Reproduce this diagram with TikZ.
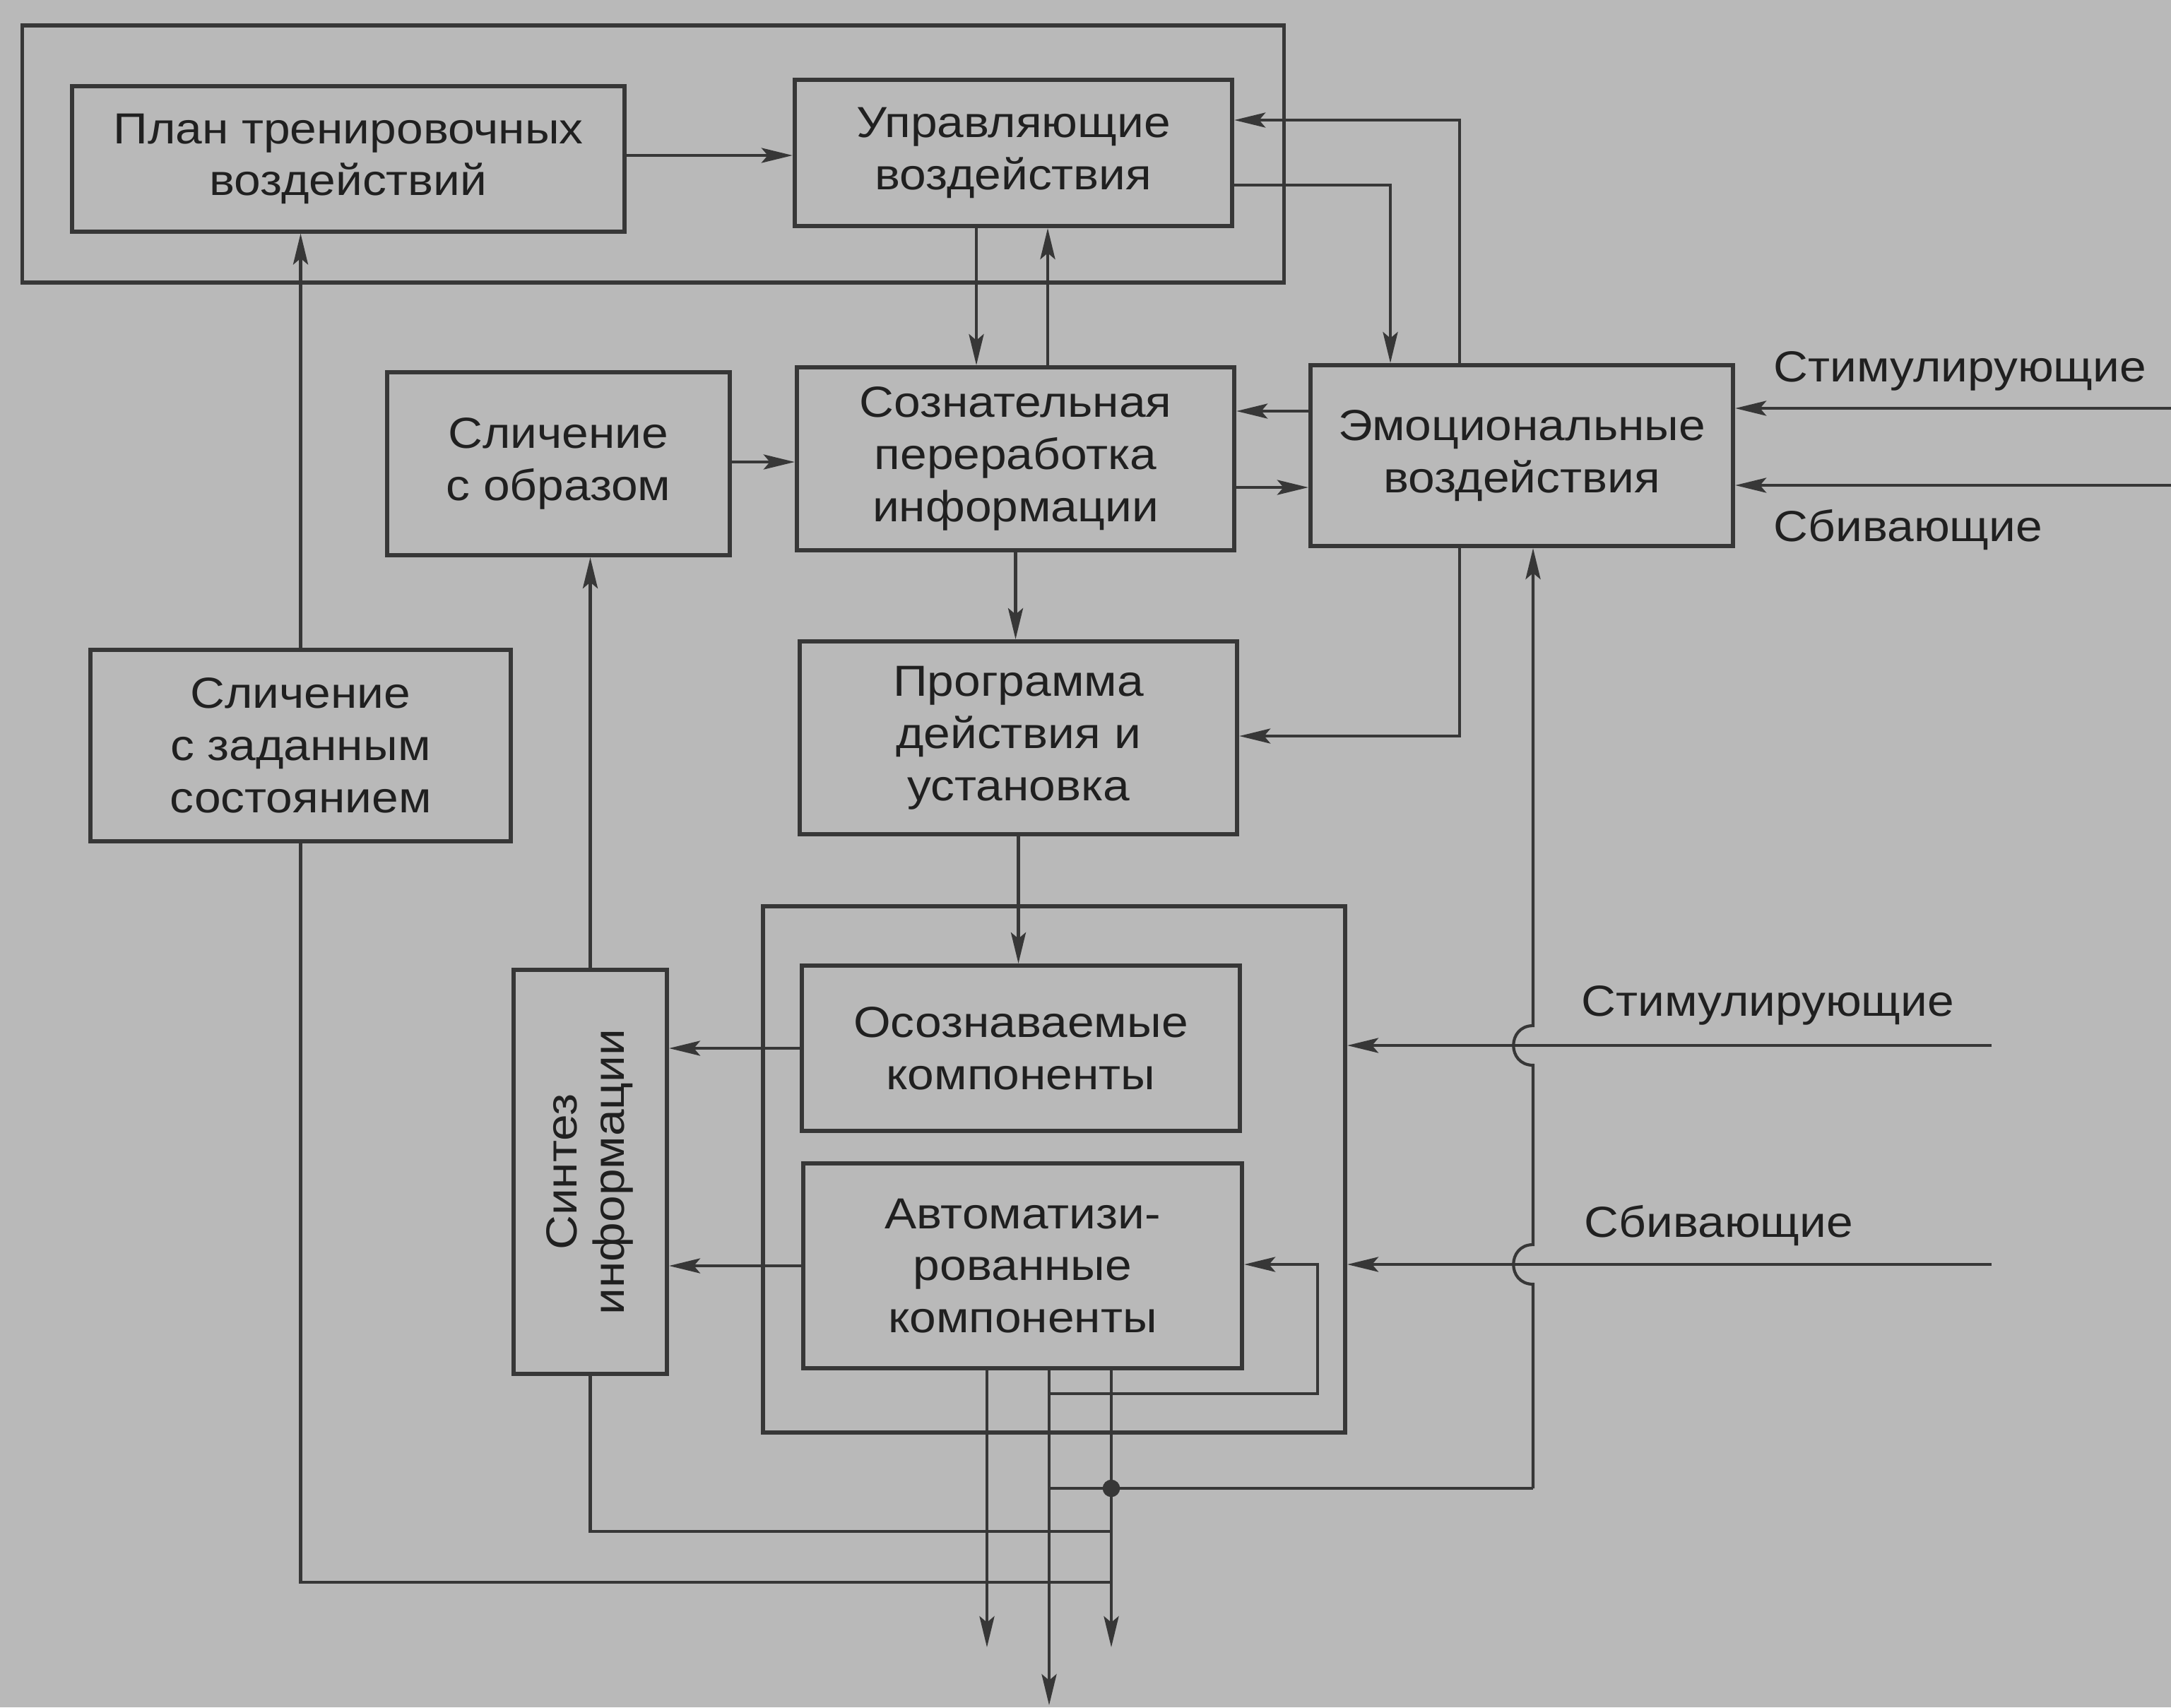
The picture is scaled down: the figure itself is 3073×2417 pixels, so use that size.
\documentclass[tikz,border=0pt]{standalone}
\usepackage{fontspec}
\setmainfont{Liberation Sans}[FakeStretch=1.1]
\usetikzlibrary{arrows.meta}
\definecolor{bg}{RGB}{185,185,185}
\definecolor{ink}{RGB}{55,55,55}
\definecolor{txt}{RGB}{32,32,32}
\begin{document}
\begin{tikzpicture}[x=0.01cm,y=-0.01cm,
  box/.style={draw=ink, line width=1.7pt, align=center, inner sep=0pt, text=txt,
              font=\fontsize{17.5}{21}\selectfont},
  grp/.style={draw=ink, line width=1.6pt, inner sep=0pt},
  conn/.style={draw=ink, line width=1.2pt},
  arr/.style={conn, -{Stealth[length=12.5pt,width=6pt,inset=2.5pt]}},
  lbl/.style={text=txt, font=\fontsize{17.5}{21}\selectfont, inner sep=0pt, anchor=base west}]

\useasboundingbox (0,0) rectangle (3073,2417);
\fill[bg] (0,0) rectangle (3073,2417);

% group frames
\node[grp, minimum width=17.85cm, minimum height=3.64cm] (outer) at (924.5,218) {};
\node[grp, minimum width=8.24cm, minimum height=7.45cm] (cont) at (1492,1655.5) {};

% boxes
\node[box, minimum width=7.82cm, minimum height=2.05cm] (plan) at (493,225) {План тренировочных\\воздействий};
\node[box, minimum width=6.19cm, minimum height=2.07cm] (upr) at (1434.5,216.5) {Управляющие\\воздействия};
\node[box, minimum width=5.98cm, minimum height=2.56cm] (emo) at (2154,645) {Эмоциональные\\воздействия};
\node[box, minimum width=4.85cm, minimum height=2.59cm] (obr) at (790.5,656.5) {Сличение\\с образом};
\node[box, minimum width=6.19cm, minimum height=2.59cm] (soz) at (1437.5,649.5) {Сознательная\\переработка\\информации};
\node[box, minimum width=6.19cm, minimum height=2.73cm] (prog) at (1441.5,1044.5) {Программа\\действия и\\установка};
\node[box, minimum width=5.95cm, minimum height=2.71cm] (zad) at (425.5,1055.5) {Сличение\\с заданным\\состоянием};
\node[box, minimum width=6.20cm, minimum height=2.34cm] (osoz) at (1445,1484) {Осознаваемые\\компоненты};
\node[box, minimum width=6.21cm, minimum height=2.90cm] (avt) at (1447.5,1792) {Автоматизи-\\рованные\\компоненты};
\node[box, minimum width=2.17cm, minimum height=5.72cm] (sin) at (835.5,1659)
  {\rotatebox{90}{\begin{tabular}{@{}c@{}}Синтез\\[-2pt]информации\end{tabular}}};

% labels
\node[lbl] (lS1) at (2510,540) {Стимулирующие};
\node[lbl] (lB1) at (2510,766) {Сбивающие};
\node[lbl] (lS2) at (2238,1438) {Стимулирующие};
\node[lbl] (lB2) at (2242,1751) {Сбивающие};

% guide coordinates
\coordinate (g1382) at (1382,0);
\coordinate (g1483) at (1483,0);
\coordinate (g1968) at (1968,0);
\coordinate (g2066) at (2066,0);
\coordinate (g2170) at (2170,0);
\coordinate (g1865) at (1865,0);
\coordinate (g1397) at (1397,0);
\coordinate (g1485) at (1485,0);
\coordinate (g1573) at (1573,0);
\coordinate (h220) at (0,220);
\coordinate (h262) at (0,262);
\coordinate (h170) at (0,170);
\coordinate (h582) at (0,582);
\coordinate (h690) at (0,690);
\coordinate (h1042) at (0,1042);
\coordinate (h654) at (0,654);
\coordinate (h1790) at (0,1790);
% free ends and junctions
\coordinate (inS1) at (3073,578);
\coordinate (inB1) at (3073,687);
\coordinate (inS2) at (2819,1480);
\coordinate (inB2) at (2819,1790);
\coordinate (jA) at (1485,1973);
\coordinate (jB) at (1485,2107);
\coordinate (jC) at (2170,2107);
\coordinate (jD) at (1573,2107);
\coordinate (jE) at (1573,2168);
\coordinate (jF) at (1573,2240);
\coordinate (out1) at (1397,2332);
\coordinate (out2) at (1485,2414);
\coordinate (out3) at (1573,2332);
\coordinate (hp1a) at (2170,1818);
\coordinate (hp1b) at (2170,1762);
\coordinate (hp2a) at (2170,1508);
\coordinate (hp2b) at (2170,1452);

% connectors
\draw[arr] (zad.north) -- (zad.north |- plan.south);
\draw[arr] (plan.east |- h220) -- (upr.west |- h220);
\draw[arr] (g1382 |- upr.south) -- (g1382 |- soz.north);
\draw[arr] (g1483 |- soz.north) -- (g1483 |- upr.south);
\draw[arr] (upr.east |- h262) -| (g1968 |- emo.north);
\draw[arr] (g2066 |- emo.north) |- (upr.east |- h170);
\draw[arr] (emo.west |- h582) -- (soz.east |- h582);
\draw[arr] (soz.east |- h690) -- (emo.west |- h690);
\draw[arr] (inS1) -- (emo.east |- inS1);
\draw[arr] (inB1) -- (emo.east |- inB1);
\draw[arr] (g2066 |- emo.south) |- (prog.east |- h1042);
\draw[arr] (obr.east |- h654) -- (soz.west |- h654);
\draw[arr] (soz.south) -- (soz.south |- prog.north);
\draw[arr] (prog.south) -- (prog.south |- osoz.north);
\draw[arr] (osoz.west) -- (osoz.west -| sin.east);
\draw[arr] (avt.west) -- (avt.west -| sin.east);
\draw[arr] (sin.north) -- (sin.north |- obr.south);
\draw[arr] (inS2) -- (cont.east |- inS2);
\draw[arr] (inB2) -- (cont.east |- inB2);
\draw[arr] (jA) -| (g1865 |- h1790) -- (avt.east |- h1790);
\draw[arr] (g1397 |- avt.south) -- (out1);
\draw[arr] (g1485 |- avt.south) -- (out2);
\draw[arr] (g1573 |- avt.south) -- (out3);
\draw[conn] (jB) -- (jC);
\draw[arr] (jC) -- (hp1a) .. controls (2133,1818) and (2133,1762) .. (hp1b)
  -- (hp2a) .. controls (2133,1508) and (2133,1452) .. (hp2b) -- (g2170 |- emo.south);
\draw[conn] (zad.south) |- (jF);
\draw[conn] (sin.south) |- (jE);
\fill[ink] (jD) circle[radius=3.5pt];
\end{tikzpicture}
\end{document}
